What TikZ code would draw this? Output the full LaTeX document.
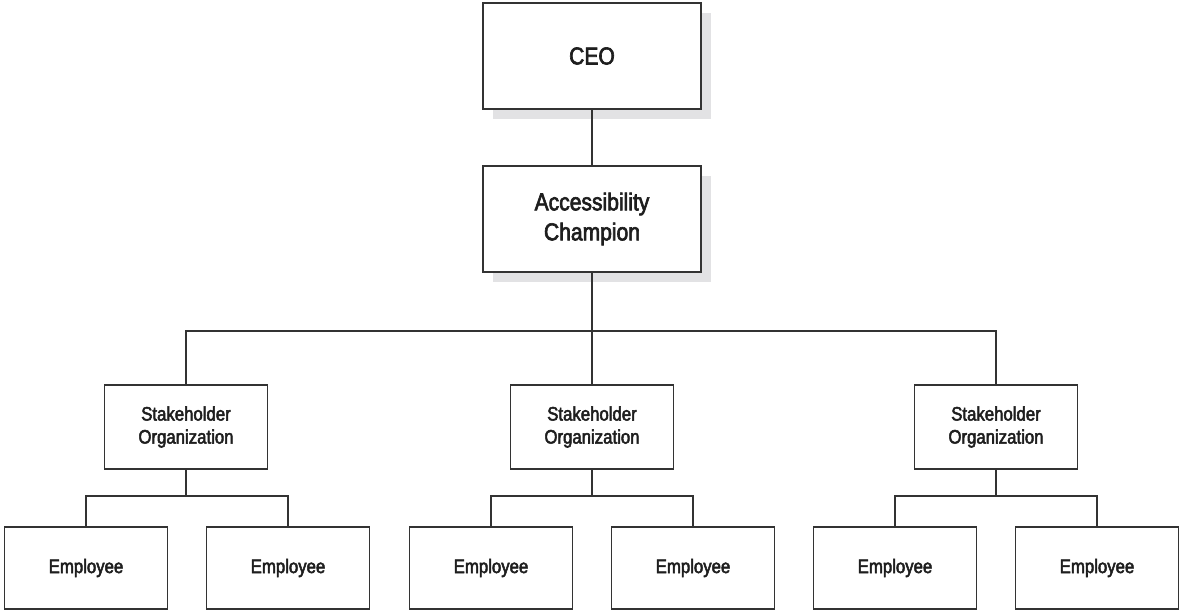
\documentclass[tikz,border=0pt]{standalone}
\usepackage{fontspec}
\setmainfont{Liberation Sans}[FakeStretch=0.86, FakeBold=2.6]
\usetikzlibrary{shadows}
\definecolor{ink}{HTML}{333333}
\definecolor{txt}{HTML}{1E1E1E}
\definecolor{shade}{HTML}{E2E2E4}
\tikzset{
  box/.style={draw=ink, line width=1.8pt, fill=white, rectangle, inner sep=0pt, align=center, text=txt},
  topbox/.style={box, minimum width=218pt, minimum height=106pt, font=\fontsize{24.5}{30}\selectfont,
     drop shadow={shadow xshift=10pt, shadow yshift=-10pt, fill=shade, opacity=1}},
  stakebox/.style={box, minimum width=163pt, minimum height=84pt, font=\fontsize{19.5}{23}\selectfont},
  empbox/.style={box, minimum width=163pt, minimum height=82pt, font=\fontsize{19.5}{23}\selectfont},
  link/.style={draw=ink, line width=1.8pt}
}
\begin{document}
\begin{tikzpicture}[x=1pt,y=-1pt]
\useasboundingbox (0,0) rectangle (1180,611);
\node[topbox] (ceo) at (592,56) {CEO};
\node[topbox] (champ) at (592,219) {Accessibility\\Champion};
\node[stakebox] (s1) at (186,427) {Stakeholder\\Organization};
\node[stakebox] (s2) at (592,427) {Stakeholder\\Organization};
\node[stakebox] (s3) at (996,427) {Stakeholder\\Organization};
\node[empbox] (e1) at (86,568) {Employee};
\node[empbox] (e2) at (288,568) {Employee};
\node[empbox] (e3) at (491,568) {Employee};
\node[empbox] (e4) at (693,568) {Employee};
\node[empbox] (e5) at (895,568) {Employee};
\node[empbox] (e6) at (1097,568) {Employee};
\coordinate (bus) at (592,331);
\coordinate (c1) at (186,496);
\coordinate (c2) at (592,496);
\coordinate (c3) at (996,496);
\draw[link] (ceo) -- (champ);
\draw[link] (champ) -- (bus);
\draw[link] (s1.north) |- (bus) -| (s3.north);
\draw[link] (bus) -- (s2);
\draw[link] (s1) -- (c1);
\draw[link] (e1.north) |- (c1) -| (e2.north);
\draw[link] (s2) -- (c2);
\draw[link] (e3.north) |- (c2) -| (e4.north);
\draw[link] (s3) -- (c3);
\draw[link] (e5.north) |- (c3) -| (e6.north);
\end{tikzpicture}
\end{document}
